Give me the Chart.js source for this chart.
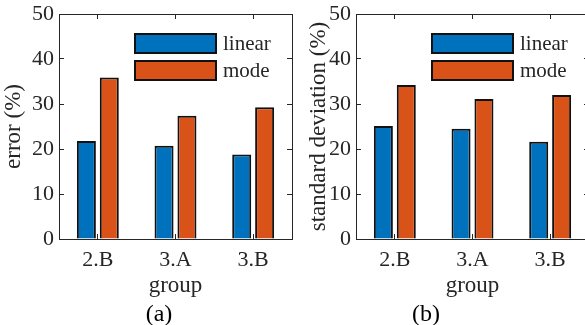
<!DOCTYPE html>
<html>
<head>
<meta charset="utf-8">
<script src="https://cdn.jsdelivr.net/npm/chart.js@4.4.1/dist/chart.umd.min.js"></script>
<style>
  html, body { margin: 0; padding: 0; background: #fff; overflow: hidden; }
  body { width: 585px; height: 325px; position: relative; font-family: 'Liberation Serif', 'Times New Roman', serif; }
  .panel { position: absolute; top: 0; height: 300px; }
  .caption { position: absolute; top: 299px; width: 60px; height: 28px; line-height: 28px; text-align: center;
    font-size: 24px; color: #000; }
</style>
</head>
<body>
<div class="panel" style="left:0px;width:300px"><canvas id="chartA"></canvas></div>
<div class="panel" style="left:305px;width:300px"><canvas id="chartB"></canvas></div>
<div class="caption" style="left:129px">(a)</div>
<div class="caption" style="left:396px">(b)</div>
<script>
const grupos = ['2.B', '3.A', '3.B'];
const errorLinear = [21.8, 20.7, 18.8];
const errorMode = [35.9, 27.4, 29.3];
const desvLinear = [25.1, 24.5, 21.6];
const desvMode = [34.2, 31.1, 32.0];
const ticksY = [0, 10, 20, 30, 40, 50];

const colorEjes = '#262626';
const fuente = "'Liberation Serif', 'Times New Roman', serif";

// leyenda dibujada dentro del area del grafico, como en matlab
const leyendaInterna = {
  id: 'leyendaInterna',
  afterDatasetsDraw(chart) {
    const { ctx, chartArea } = chart;
    ctx.save();
    chart.data.datasets.forEach((ds, i) => {
      const x = chartArea.left + 76;
      const y = chartArea.top + 20 + i * 27;
      ctx.fillStyle = ds.backgroundColor;
      ctx.fillRect(x, y, 81, 19);
      ctx.lineWidth = 2;
      ctx.strokeStyle = '#111';
      ctx.strokeRect(x, y, 81, 19);
      ctx.fillStyle = colorEjes;
      ctx.font = `21px ${fuente}`;
      ctx.textBaseline = 'middle';
      ctx.fillText(ds.label, x + 88, y + 10);
    });
    ctx.restore();
  }
};

function sinRelleno(s) {
  s.paddingTop = 0;
  s.paddingBottom = 0;
  s.paddingLeft = 0;
  s.paddingRight = 0;
}

function crearPanel(id, linear, mode, tituloY, anchoEjeY, anchoDerecho) {
  const gridEje = { drawOnChartArea: false, tickLength: -5, color: colorEjes, lineWidth: 1 };
  const bordeEje = { display: true, color: colorEjes, width: 1 };
  const fuenteTicks = { family: fuente, size: 22 };
  const fuenteTitulo = { family: fuente, size: 23 };
  return new Chart(document.getElementById(id), {
    type: 'bar',
    data: {
      labels: grupos,
      datasets: [
        { label: 'linear', data: linear, backgroundColor: '#0072BD', borderColor: '#111', borderWidth: 2 },
        { label: 'mode', data: mode, backgroundColor: '#D95319', borderColor: '#111', borderWidth: 2 }
      ]
    },
    options: {
      responsive: true,
      maintainAspectRatio: false,
      animation: false,
      layout: { padding: 0 },
      categoryPercentage: 0.59,
      barPercentage: 0.83,
      plugins: { legend: { display: false }, tooltip: { enabled: false } },
      scales: {
        x: {
          position: 'bottom',
          grid: { ...gridEje, offset: false },
          border: bordeEje,
          ticks: { color: colorEjes, font: fuenteTicks, padding: 13 },
          title: { display: true, text: 'group', color: colorEjes, font: fuenteTitulo, padding: 0 },
          afterFit: (s) => { s.height = 61; sinRelleno(s); }
        },
        xTop: {
          position: 'top',
          type: 'category',
          labels: grupos,
          grid: { ...gridEje, offset: false },
          border: bordeEje,
          ticks: { display: false },
          afterFit: (s) => { s.height = 14; sinRelleno(s); }
        },
        y: {
          min: 0,
          max: 50,
          afterBuildTicks: (s) => { s.ticks = ticksY.map(v => ({ value: v })); },
          grid: gridEje,
          border: bordeEje,
          ticks: { color: colorEjes, font: fuenteTicks, padding: 10 },
          title: { display: true, text: tituloY, color: colorEjes, font: fuenteTitulo, padding: 0 },
          afterFit: (s) => { s.width = anchoEjeY; sinRelleno(s); }
        },
        yRight: {
          position: 'right',
          min: 0,
          max: 50,
          afterBuildTicks: (s) => { s.ticks = ticksY.map(v => ({ value: v })); },
          grid: gridEje,
          border: bordeEje,
          ticks: { display: false },
          afterFit: (s) => { s.width = anchoDerecho; sinRelleno(s); }
        }
      }
    },
    plugins: [leyendaInterna]
  });
}

// esperar la fuente antes de dibujar en el canvas
document.fonts.load("23px 'Liberation Serif'").then(() => {
  crearPanel('chartA', errorLinear, errorMode, 'error (%)', 59, 8);
  crearPanel('chartB', desvLinear, desvMode, 'standard deviation (%)', 51, 16);
});
</script>
</body>
</html>
